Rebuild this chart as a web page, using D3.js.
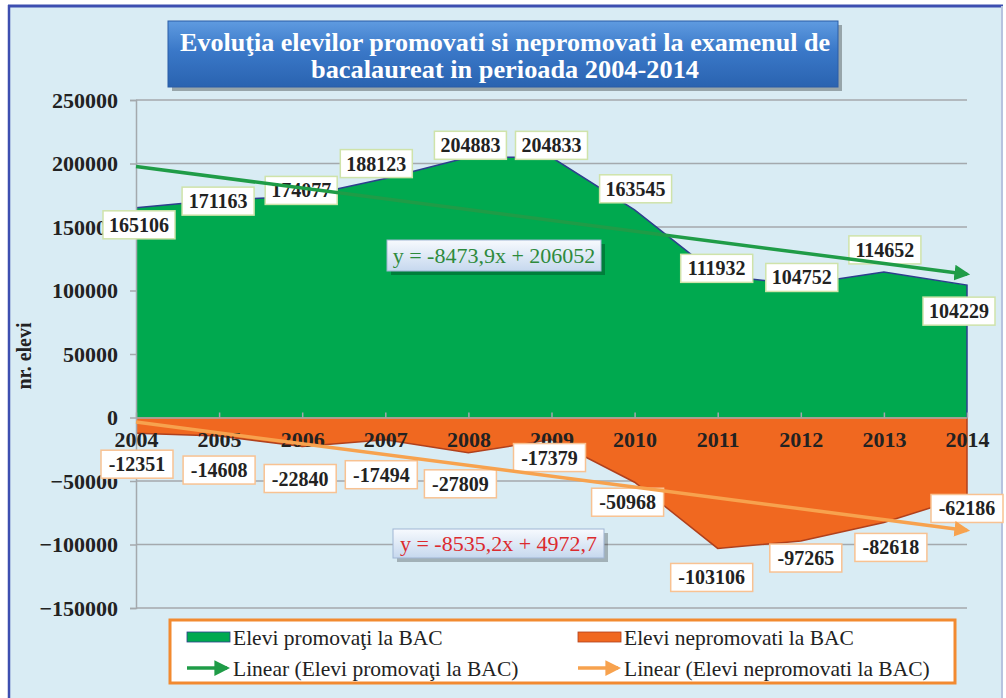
<!DOCTYPE html>
<html>
<head>
<meta charset="utf-8">
<script src="https://cdn.jsdelivr.net/npm/d3@7"></script>
<style>
	body { margin: 0; background: #fff; }
	text { font-family: "Liberation Serif", "Times New Roman", serif; }
</style>
</head>
<body>
<svg id="chart" width="1006" height="698"></svg>
<script>
var years = ['2004', '2005', '2006', '2007', '2008', '2009', '2010', '2011', '2012', '2013', '2014'];
var promovati = [165106, 171163, 174077, 188123, 204883, 204833, 163545, 111932, 104752, 114652, 104229];
var nepromovati = [-12351, -14608, -22840, -17494, -27809, -17379, -50968, -103106, -97265, -82618, -62186];
var yTicks = [-150000, -100000, -50000, 0, 50000, 100000, 150000, 200000, 250000];
// linear trend: [slope, intercept], x = 1..11
var trendPromovati = [-8473.9, 206052];
var trendNepromovati = [-8535.2, 4972.7];
var eqPromovati = 'y = -8473,9x + 206052';
var eqNepromovati = 'y = -8535,2x + 4972,7';
var titleLines = ['Evoluţia elevilor promovati si nepromovati la examenul de', 'bacalaureat in perioada 2004-2014'];
var legendNames = ['Elevi promovaţi la BAC', 'Elevi nepromovati la BAC', 'Linear (Elevi promovaţi la BAC)', 'Linear (Elevi nepromovati la BAC)'];

// label box offsets from the data point, px
var greenOffsets = [[3, 17], [-1, 1], [-1, -6], [-9, -15], [2, -12], [0, -12], [1, -21], [-1, -7], [1, -7], [1, -22], [-8, 26]];
var orangeOffsets = [[1, 31], [0, 34], [-2, 32], [-4, 35], [-8, 31], [-2, 18], [-7, 20], [-6, 29], [5, 17], [7, 25], [0, 12]];

var svg = d3.select('#chart');

var green = '#00a94f', orange = '#f06820', greenTrend = '#1f9c47', orangeTrend = '#f7a24e';

// frame
svg.append('rect').attr('x', 9).attr('y', 6).attr('width', 993).attr('height', 700)
	.attr('fill', '#d9ecf4');
svg.append('line').attr('x1', 8).attr('x2', 1003).attr('y1', 6).attr('y2', 6)
	.attr('stroke', '#3d4eb0').attr('stroke-width', 3);
svg.append('line').attr('x1', 9).attr('x2', 9).attr('y1', 5).attr('y2', 698)
	.attr('stroke', '#3d4eb0').attr('stroke-width', 2.5);
svg.append('line').attr('x1', 1002).attr('x2', 1002).attr('y1', 6).attr('y2', 698)
	.attr('stroke', '#b7c3e0').attr('stroke-width', 2);

var x = d3.scalePoint().domain(years).range([136, 967]);
var y = d3.scaleLinear().domain([-150000, 250000]).range([608, 100]);

var defs = svg.append('defs');
function arrow(id, color) {
	defs.append('marker').attr('id', id)
		.attr('viewBox', '0 0 10 10').attr('refX', 8).attr('refY', 5)
		.attr('markerWidth', 4.5).attr('markerHeight', 4.5)
		.attr('orient', 'auto')
		.append('path').attr('d', 'M0,0 L10,5 L0,10 z').attr('fill', color);
}
arrow('arrG', greenTrend);
arrow('arrO', orangeTrend);

var gradTitle = defs.append('linearGradient').attr('id', 'gTitle').attr('x1', 0).attr('x2', 0).attr('y1', 0).attr('y2', 1);
gradTitle.append('stop').attr('offset', '0%').attr('stop-color', '#5f9be0');
gradTitle.append('stop').attr('offset', '45%').attr('stop-color', '#3a78c8');
gradTitle.append('stop').attr('offset', '100%').attr('stop-color', '#2a63b0');

var gradEq = defs.append('linearGradient').attr('id', 'gEq').attr('x1', 0).attr('x2', 0).attr('y1', 0).attr('y2', 1);
gradEq.append('stop').attr('offset', '0%').attr('stop-color', '#f7fafe');
gradEq.append('stop').attr('offset', '100%').attr('stop-color', '#c6d8ee');

// gridlines
svg.append('g').selectAll('line').data(yTicks).enter().append('line')
	.attr('x1', 136).attr('x2', 967)
	.attr('y1', d => y(d)).attr('y2', d => y(d))
	.attr('stroke', '#a4a9ad').attr('stroke-width', 1.5);

// areas
var area = d3.area().x((d, i) => x(years[i])).y0(y(0)).y1(d => y(d));
svg.append('path').datum(promovati).attr('d', area).attr('fill', green);
svg.append('path').datum(nepromovati).attr('d', area).attr('fill', orange);

var edge = d3.line().x((d, i) => x(years[i])).y(d => y(d));
svg.append('path').attr('d', edge(promovati) + 'L' + x('2014') + ',' + y(0))
	.attr('fill', 'none').attr('stroke', '#2d3f8e').attr('stroke-width', 1.5);
svg.append('path').attr('d', edge(nepromovati) + 'L' + x('2014') + ',' + y(0))
	.attr('fill', 'none').attr('stroke', '#b0401c').attr('stroke-width', 1.5);

// axes
var yAxis = svg.append('g').attr('transform', 'translate(136,0)')
	.call(d3.axisLeft(y).tickValues(yTicks).tickSize(6).tickPadding(12).tickFormat(d3.format('d')));
yAxis.select('.domain').attr('stroke', '#a4a9ad').attr('stroke-width', 1.5);
yAxis.selectAll('.tick line').attr('stroke', '#a4a9ad').attr('stroke-width', 1.5);
yAxis.selectAll('.tick text').attr('font-family', '"Liberation Serif", serif')
	.attr('font-size', 22).attr('font-weight', 'bold').attr('fill', '#222');

var xAxis = svg.append('g').attr('transform', 'translate(0,' + y(0) + ')')
	.call(d3.axisBottom(x).tickSize(-5).tickSizeOuter(0).tickPadding(14));
xAxis.select('.domain').attr('stroke', '#a4a9ad').attr('stroke-width', 1.5);
xAxis.selectAll('.tick line').attr('stroke', '#a4a9ad').attr('stroke-width', 1.5);
xAxis.selectAll('.tick text').attr('font-family', '"Liberation Serif", serif')
	.attr('font-size', 22).attr('font-weight', 'bold').attr('fill', '#222');

svg.append('text').attr('transform', 'translate(31,356) rotate(-90)')
	.attr('text-anchor', 'middle').attr('font-size', 20).attr('font-weight', 'bold')
	.attr('fill', '#222').text('nr. elevi');

// data labels
function labels(values, offsets, border) {
	var g = svg.append('g').selectAll('g').data(values).enter().append('g')
		.attr('transform', (d, i) => 'translate(' + (x(years[i]) + offsets[i][0]) + ',' + (y(d) + offsets[i][1]) + ')');
	g.append('rect').attr('x', d => -(String(d).length * 10 + 12) / 2).attr('y', -14)
		.attr('width', d => String(d).length * 10 + 12).attr('height', 28)
		.attr('fill', '#fff').attr('stroke', border).attr('stroke-width', 1.5);
	g.append('text').attr('text-anchor', 'middle').attr('dy', '0.35em')
		.attr('font-size', 20).attr('font-weight', 'bold').attr('fill', '#222')
		.text(d => d);
}
labels(promovati, greenOffsets, '#cfe3aa');
labels(nepromovati, orangeOffsets, '#f8c292');

// trend lines
function trend(coef, color, marker) {
	var pts = [0, years.length - 1].map(i => [x(years[i]), y(coef[0] * (i + 1) + coef[1])]);
	svg.append('path').attr('d', d3.line()(pts))
		.attr('stroke', color).attr('stroke-width', 3.5).attr('fill', 'none')
		.attr('marker-end', 'url(#' + marker + ')');
}
trend(trendPromovati, greenTrend, 'arrG');
trend(trendNepromovati, orangeTrend, 'arrO');

// equation boxes
function eqBox(x0, y0, w, h, txt, color) {
	svg.append('rect').attr('x', x0 + 4).attr('y', y0 + 4).attr('width', w).attr('height', h)
		.attr('fill', 'rgba(0,0,0,0.25)');
	svg.append('rect').attr('x', x0).attr('y', y0).attr('width', w).attr('height', h)
		.attr('fill', 'url(#gEq)').attr('stroke', '#9fb5d4').attr('stroke-width', 1);
	svg.append('text').attr('x', x0 + w / 2).attr('y', y0 + h / 2).attr('dy', '0.35em')
		.attr('text-anchor', 'middle').attr('font-size', 22).attr('fill', color).text(txt);
}
eqBox(387, 240, 214, 31, eqPromovati, '#2e8a3c');
eqBox(393, 529, 211, 29, eqNepromovati, '#dc2a2e');

// title
svg.append('rect').attr('x', 172).attr('y', 25).attr('width', 670).attr('height', 66)
	.attr('fill', 'rgba(0,0,0,0.3)');
svg.append('rect').attr('x', 168).attr('y', 21).attr('width', 670).attr('height', 66)
	.attr('fill', 'url(#gTitle)').attr('stroke', '#2a5da6').attr('stroke-width', 1);
svg.selectAll('.title').data(titleLines).enter().append('text')
	.attr('x', 505).attr('y', (d, i) => 51 + i * 27)
	.attr('text-anchor', 'middle').attr('font-size', 25).attr('font-weight', 'bold')
	.attr('fill', '#fff')
	.attr('textLength', (d, i) => i === 0 ? 650 : 388).attr('lengthAdjust', 'spacingAndGlyphs')
	.text(d => d);

// legend
var legend = svg.append('g');
legend.append('rect').attr('x', 170).attr('y', 620).attr('width', 785).attr('height', 63)
	.attr('fill', '#fff').attr('stroke', '#f28a30').attr('stroke-width', 3);
var legendItems = [
	{ name: legendNames[0], color: green, kind: 'area', lx: 187, ly: 637 },
	{ name: legendNames[1], color: orange, kind: 'area', lx: 578, ly: 637 },
	{ name: legendNames[2], color: greenTrend, kind: 'line', marker: 'arrG', lx: 187, ly: 668 },
	{ name: legendNames[3], color: orangeTrend, kind: 'line', marker: 'arrO', lx: 578, ly: 668 }
];
legendItems.forEach(function (d) {
	if (d.kind === 'area') {
		legend.append('rect').attr('x', d.lx).attr('y', d.ly - 5).attr('width', 43).attr('height', 10)
			.attr('fill', d.color).attr('stroke', d.color === green ? '#2d3f8e' : '#b0401c').attr('stroke-width', 0.8);
	} else {
		legend.append('line').attr('x1', d.lx).attr('x2', d.lx + 40).attr('y1', d.ly).attr('y2', d.ly)
			.attr('stroke', d.color).attr('stroke-width', 3.5).attr('marker-end', 'url(#' + d.marker + ')');
	}
	legend.append('text').attr('x', d.lx + 46).attr('y', d.ly).attr('dy', '0.35em')
		.attr('font-size', 21.5).attr('fill', '#222').text(d.name);
});
</script>
</body>
</html>
